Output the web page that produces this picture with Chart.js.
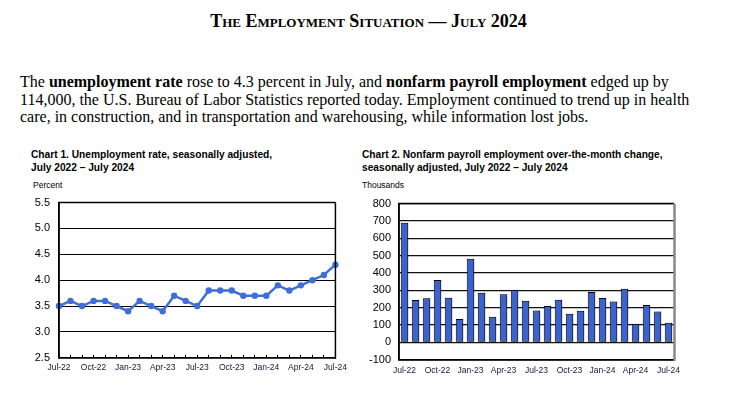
<!DOCTYPE html>
<html>
<head>
<meta charset="utf-8">
<script src="https://cdn.jsdelivr.net/npm/chart.js@4.4.1/dist/chart.umd.min.js"></script>
<style>
  body { margin: 0; width: 737px; height: 398px; background: #fff; position: relative; overflow: hidden; }
  .titulo { position: absolute; left: 0; width: 737px; top: 10px; line-height: 22px; text-align: center;
    font-family: "Liberation Serif", "Times New Roman", serif; font-weight: bold; font-size: 18px; font-variant: small-caps; }
  .texto { position: absolute; left: 20px; top: 73px; width: 710px; line-height: 17.5px;
    font-family: "Liberation Serif", "Times New Roman", serif; font-size: 16px; }
  .ctitulo { position: absolute; top: 149px; line-height: 12.5px;
    font-family: "Liberation Sans", Arial, sans-serif; font-weight: bold; font-size: 10.2px; }
  .unidad { position: absolute; top: 180px; font-family: "Liberation Sans", Arial, sans-serif; font-size: 8.5px; }
  canvas { position: absolute; display: block; }
</style>
</head>
<body>
<div class="titulo">The Employment Situation — July 2024</div>
<div class="texto">The <b>unemployment rate</b> rose to 4.3 percent in July, and <b>nonfarm payroll employment</b> edged up by<br>114,000, the U.S. Bureau of Labor Statistics reported today. Employment continued to trend up in health<br>care, in construction, and in transportation and warehousing, while information lost jobs.</div>

<div class="ctitulo" style="left:31px">Chart 1. Unemployment rate, seasonally adjusted,<br>July 2022 – July 2024</div>
<div class="unidad" style="left:33px">Percent</div>
<div class="ctitulo" style="left:362px">Chart 2. Nonfarm payroll employment over-the-month change,<br>seasonally adjusted, July 2022 – July 2024</div>
<div class="unidad" style="left:362px">Thousands</div>

<canvas id="graficoDesempleo" style="left:20px; top:187px" width="335" height="194"></canvas>
<canvas id="graficoNomina" style="left:355px; top:189px" width="340" height="193"></canvas>

<script>
// Meses (jul 2022 - jul 2024)
const meses = ['Jul-22', 'Aug-22', 'Sep-22', 'Oct-22', 'Nov-22', 'Dec-22',
  'Jan-23', 'Feb-23', 'Mar-23', 'Apr-23', 'May-23', 'Jun-23',
  'Jul-23', 'Aug-23', 'Sep-23', 'Oct-23', 'Nov-23', 'Dec-23',
  'Jan-24', 'Feb-24', 'Mar-24', 'Apr-24', 'May-24', 'Jun-24', 'Jul-24'];

// Tasa de desempleo (%)
const tasaDesempleo = [3.5, 3.6, 3.5, 3.6, 3.6, 3.5, 3.4, 3.6, 3.5, 3.4, 3.7, 3.6,
  3.5, 3.8, 3.8, 3.8, 3.7, 3.7, 3.7, 3.9, 3.8, 3.9, 4.0, 4.1, 4.3];

// Cambio mensual de empleo (miles)
const cambioEmpleo = [690, 245, 255, 360, 258, 135, 482, 287, 148, 278, 303, 240,
  184, 210, 246, 165, 182, 290, 256, 236, 310, 108, 216, 179, 114];

const fuenteEjes = { family: '"Liberation Sans", Arial, sans-serif', size: 11 };
const fuenteMeses = { family: '"Liberation Sans", Arial, sans-serif', size: 8.5 };

// Etiqueta cada 3 meses
function etiquetaTrimestral(valor, indice) {
  return indice % 3 === 0 ? meses[indice] : '';
}

// Marco del area de grafico
function marco(colorDerecho) {
  return {
    id: 'marco',
    afterDraw(chart) {
      const { ctx, chartArea: a } = chart;
      const sombra = colorDerecho !== '#000';
      ctx.save();
      ctx.strokeStyle = '#000';
      ctx.lineWidth = 1.5;
      ctx.beginPath();
      ctx.moveTo(a.right, a.top);
      ctx.lineTo(a.left, a.top);
      ctx.lineTo(a.left, a.bottom);
      ctx.lineTo(a.right, a.bottom);
      ctx.stroke();
      ctx.strokeStyle = colorDerecho;
      ctx.lineWidth = sombra ? 2.5 : 1.5;
      ctx.beginPath();
      ctx.moveTo(a.right + (sombra ? 0.5 : 0), a.top);
      ctx.lineTo(a.right + (sombra ? 0.5 : 0), a.bottom + 1);
      ctx.stroke();
      ctx.restore();
    }
  };
}

// Sombra de las barras
const sombraBarras = {
  id: 'sombraBarras',
  beforeDatasetDraw(chart) {
    const ctx = chart.ctx;
    ctx.save();
    ctx.shadowColor = 'rgba(0,0,0,0.35)';
    ctx.shadowOffsetX = 2;
    ctx.shadowOffsetY = 0;
    ctx.shadowBlur = 0;
  },
  afterDatasetDraw(chart) {
    chart.ctx.restore();
  }
};

new Chart(document.getElementById('graficoDesempleo'), {
  type: 'line',
  data: {
    labels: meses,
    datasets: [{
      data: tasaDesempleo,
      borderColor: '#3e6fd8',
      backgroundColor: '#3e6fd8',
      borderWidth: 2.5,
      pointRadius: 3.2,
      pointBorderWidth: 0,
      tension: 0
    }]
  },
  options: {
    responsive: false,
    animation: false,
    layout: { padding: { top: 1, right: 15, left: 0, bottom: 0 } },
    plugins: { legend: { display: false }, tooltip: { enabled: false } },
    scales: {
      x: {
        offset: false,
        grid: { drawOnChartArea: false, drawTicks: true, tickLength: -3, color: '#000', lineWidth: 1 },
        border: { color: '#000', width: 1.5 },
        ticks: { autoSkip: false, maxRotation: 0, padding: 8, color: '#14143a', font: fuenteMeses, callback: etiquetaTrimestral }
      },
      y: {
        min: 2.5,
        max: 5.5,
        afterFit(escala) { escala.width = 39; },
        grid: { color: '#000', lineWidth: 1, drawTicks: false },
        border: { color: '#000', width: 1.5 },
        ticks: { stepSize: 0.5, autoSkip: false, padding: 9, color: '#000', font: fuenteEjes, callback: v => v.toFixed(1) }
      }
    }
  },
  plugins: [marco('#000')]
});

new Chart(document.getElementById('graficoNomina'), {
  type: 'bar',
  data: {
    labels: meses,
    datasets: [{
      data: cambioEmpleo,
      backgroundColor: '#3a63d0',
      borderColor: '#000',
      borderWidth: 1,
      borderSkipped: false,
      barPercentage: 0.68,
      categoryPercentage: 1
    }]
  },
  options: {
    responsive: false,
    animation: false,
    layout: { padding: { top: 2, right: 21, left: 0, bottom: 0 } },
    plugins: { legend: { display: false }, tooltip: { enabled: false } },
    scales: {
      x: {
        grid: { display: false, drawTicks: false },
        border: { color: '#000', width: 1.5 },
        ticks: { autoSkip: false, maxRotation: 0, padding: 6, color: '#14143a', font: fuenteMeses, callback: etiquetaTrimestral }
      },
      y: {
        min: -100,
        max: 800,
        afterFit(escala) { escala.width = 44; },
        grid: { color: '#111', lineWidth: 1.2, drawTicks: false },
        border: { color: '#000', width: 1.5 },
        ticks: { stepSize: 100, autoSkip: false, padding: 8, color: '#000', font: fuenteEjes }
      }
    }
  },
  plugins: [sombraBarras, marco('#888')]
});
</script>
</body>
</html>
